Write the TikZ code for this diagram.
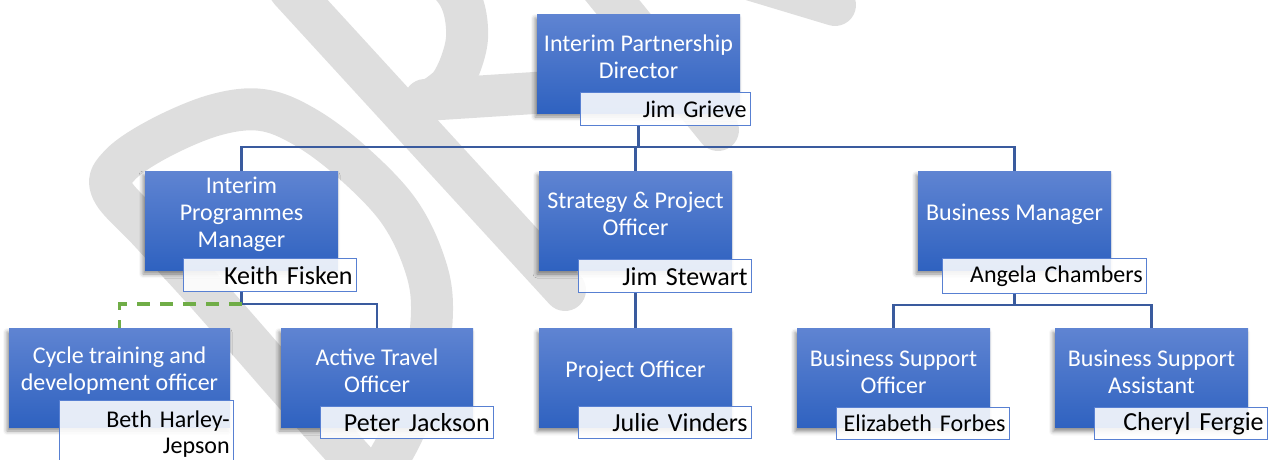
\documentclass[tikz,border=0pt]{standalone}
\usepackage{fontspec}
\setmainfont{Carlito}
\usetikzlibrary{shadows.blur}

\definecolor{roletop}{RGB}{95,132,210}
\definecolor{rolebot}{RGB}{47,98,192}
\definecolor{namering}{RGB}{88,128,210}
\definecolor{linkblue}{RGB}{58,91,158}
\definecolor{dotgreen}{RGB}{112,173,71}
\definecolor{wmgray}{RGB}{222,222,222}

\newcommand{\rolefont}{\fontsize{24}{27}\selectfont}
\newcommand{\namefont}{\fontsize{24}{26}\selectfont}
\newcommand{\bignamefont}{\fontsize{26}{28}\selectfont}

\begin{document}
\begin{tikzpicture}[
  x=1pt, y=-1pt,
  % Blue post box (title is put on as a centre label, a bit high)
  role/.style={rectangle, minimum width=193pt, minimum height=99pt,
               inner sep=0pt, top color=roletop, bottom color=rolebot,
               blur shadow={shadow xshift=-2pt, shadow yshift=-4pt,
                            shadow blur radius=4pt, shadow opacity=45}},
  rolelbl/.style={text=white, font=\rolefont, align=center, yshift=6.5pt},
  % Name tag hanging off the lower right corner of a post box
  tag/.style={rectangle, anchor=north west, draw=namering, line width=1.3pt,
              fill=white, fill opacity=0.88, text opacity=1,
              minimum height=33pt, text width=165pt,
              inner xsep=4pt, inner ysep=2pt, align=right, font=\namefont},
  bigtag/.style={tag, font=\bignamefont},
  link/.style={draw=linkblue, line width=2.2pt},
  dotlink/.style={draw=dotgreen, line width=3.5pt, dash pattern=on 13pt off 10pt},
  % Watermark strokes
  wm/.style={draw=wmgray, line width=42pt, line cap=round, line join=round}
]
\useasboundingbox (0,0) rectangle (1273,459);

% ── Watermark ──────────────────────────────────────────────────────────────
\draw[wm] plot[smooth, tension=0.6] coordinates {(372,480) (300,400) (207,294)
  (150,232) (112,190) (120,165) (160,138) (215,115) (262,110) (305,127)
  (352,162) (398,210) (424,262) (432,310) (423,380) (403,432) (382,470)};
\draw[wm] (290,-10) -- (565,290);
\draw[wm] plot[smooth] coordinates {(300,-5) (390,-60) (455,-10) (467,38)
  (450,85) (410,112)};
\draw[wm] (425,100) -- (550,92);
\draw[wm] (600,-15) -- (718,130);
\draw[wm] (752,-20) -- (835,5);

% ── Top ────────────────────────────────────────────────────────────────────
\node[role, minimum width=203pt,
      label={[rolelbl]center:{Interim Partnership\\Director}}]
                                      (ipd) at (638.5,63.5) {};
\node[tag, text width=162pt]          (grieve) at (580,92) {Jim Grieve};

% ── Second row ─────────────────────────────────────────────────────────────
\node[role, label={[rolelbl]center:{Interim\\Programmes\\Manager}}]
                                      (ipm) at (241.5,220.5) {};
\node[role, label={[rolelbl]center:{Strategy \& Project\\Officer}}]
                                      (spo) at (635.5,220.5) {};
\node[role, label={[rolelbl]center:{Business Manager}}]
                                      (bm)  at (1014.5,220.5) {};

\node[bigtag]                         (fisken)   at (183,258) {Keith Fisken};
\node[bigtag]                         (stewart)  at (578,259) {Jim Stewart};
\node[tag, text width=196pt, minimum height=35pt]
                                      (chambers) at (942,258) {Angela Chambers};

% ── Third row ──────────────────────────────────────────────────────────────
\node[role, minimum width=221pt,
      label={[rolelbl]center:{Cycle training and\\development officer}}]
                                      (cyc) at (119.5,377.5) {};
\node[role, minimum width=192pt,
      label={[rolelbl]center:{Active Travel\\Officer}}]
                                      (ato) at (377,377.5) {};
\node[role, label={[rolelbl]center:{Project Officer}}]
                                      (po)  at (635.5,378) {};
\node[role, label={[rolelbl]center:{Business Support\\Officer}}]
                                      (bso) at (893.5,378) {};
\node[role, label={[rolelbl]center:{Business Support\\Assistant}}]
                                      (bsa) at (1151.5,378) {};

\node[tag, text width=166pt, minimum height=66pt]
                                      (harley)  at (59,400)   {Beth Harley-\\Jepson};
\node[bigtag, minimum height=32pt]    (jackson) at (320,406)  {Peter Jackson};
\node[bigtag, minimum height=32pt]    (vinders) at (578,406)  {Julie Vinders};
\node[tag, minimum height=32pt]       (forbes)  at (836,407)  {Elizabeth Forbes};
\node[bigtag, minimum height=32pt]    (fergie)  at (1094,407) {Cheryl Fergie};

% ── Reporting lines ────────────────────────────────────────────────────────
\coordinate (topbus) at (638.5,147);
\draw[link] (ipd.south |- grieve.south) -- (topbus);
\draw[link] (topbus) -| (ipm.north);
\draw[link] (topbus) -| (spo.north);
\draw[link] (topbus) -| (bm.north);

\coordinate (ipmbus) at (241.5,304);
\draw[link]    (ipm.south |- fisken.south) -- (ipmbus) -| (ato.north);
\draw[dotlink] (ipmbus) -| (cyc.north);   % dotted-line report

\draw[link] (spo.south |- stewart.south) -- (po.north);

\coordinate (bmbus) at (1014.5,305);
\draw[link] (bm.south |- chambers.south) -- (bmbus);
\draw[link] (bmbus) -| (bso.north);
\draw[link] (bmbus) -| (bsa.north);

\end{tikzpicture}
\end{document}
